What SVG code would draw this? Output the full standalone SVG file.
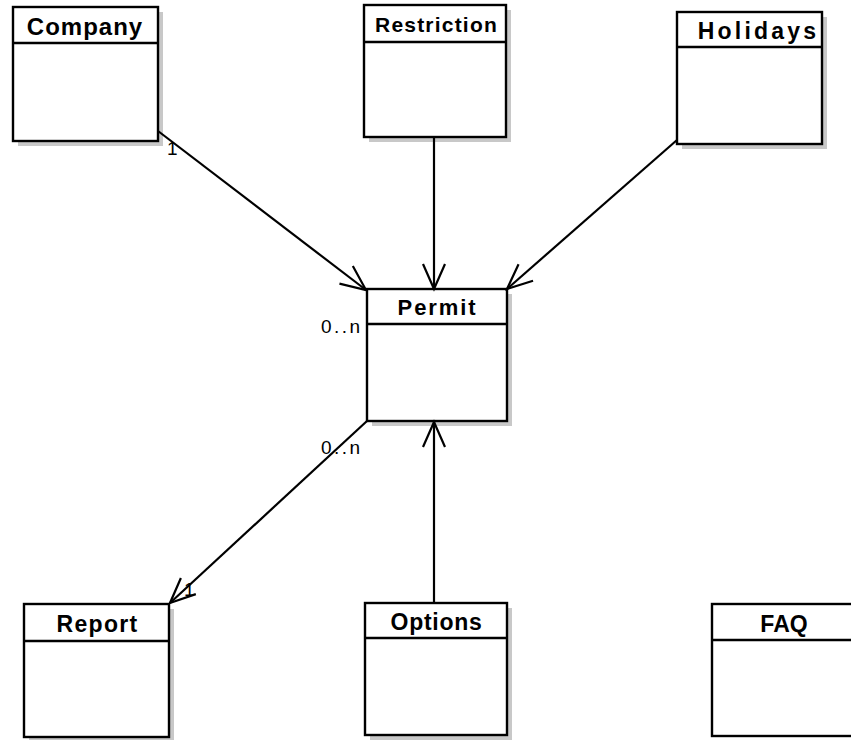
<svg xmlns="http://www.w3.org/2000/svg" width="851" height="740" viewBox="0 0 851 740">
  <style>
    .shadow { fill: #c8c8c8; }
    .box { fill: #ffffff; stroke: #000000; stroke-width: 2.4; }
    .div { stroke: #000000; stroke-width: 2.4; }
    .title { font-family: "Liberation Sans", Arial, sans-serif; font-weight: bold; fill: #000000; text-anchor: middle; }
    .mult { font-family: "Liberation Sans", Arial, sans-serif; font-size: 19px; fill: #000000; }
    .edge { fill: none; stroke: #000000; stroke-width: 2.2; }
  </style>
  <defs>
    <marker id="open" viewBox="-28 -13 31 26" refX="0" refY="0" markerWidth="31" markerHeight="26" markerUnits="userSpaceOnUse" orient="auto">
      <path d="M-25,-11 L0,0 L-25,11" fill="none" stroke="#000000" stroke-width="2.2"/>
    </marker>
  </defs>
  <rect width="851" height="740" fill="#ffffff"/>

  <g id="company">
    <rect class="shadow" x="18" y="12" width="145" height="134"/>
    <rect class="box" x="13" y="7" width="145" height="134"/>
    <line class="div" x1="13" y1="43" x2="158" y2="43"/>
    <text class="title" x="85" y="35" font-size="24" letter-spacing="1">Company</text>
  </g>

  <g id="restriction">
    <rect class="shadow" x="369" y="10" width="142" height="132"/>
    <rect class="box" x="364" y="5" width="142" height="132"/>
    <line class="div" x1="364" y1="42" x2="506" y2="42"/>
    <text class="title" x="436.5" y="32" font-size="21" letter-spacing="1.2">Restriction</text>
  </g>

  <g id="holidays">
    <rect class="shadow" x="682" y="17" width="145" height="132"/>
    <rect class="box" x="677" y="12" width="145" height="132"/>
    <line class="div" x1="677" y1="47" x2="822" y2="47"/>
    <text class="title" x="758.5" y="39" font-size="23" letter-spacing="3.2">Holidays</text>
  </g>

  <g id="permit">
    <rect class="shadow" x="372" y="294" width="140" height="132"/>
    <rect class="box" x="367" y="289" width="140" height="132"/>
    <line class="div" x1="367" y1="324" x2="507" y2="324"/>
    <text class="title" x="437.5" y="315" font-size="22" letter-spacing="1.9">Permit</text>
  </g>

  <g id="report">
    <rect class="shadow" x="29" y="609" width="145" height="133"/>
    <rect class="box" x="24" y="604" width="145" height="133"/>
    <line class="div" x1="24" y1="641" x2="169" y2="641"/>
    <text class="title" x="97.5" y="631.5" font-size="23" letter-spacing="1.3">Report</text>
  </g>

  <g id="options">
    <rect class="shadow" x="370" y="608" width="142" height="132"/>
    <rect class="box" x="365" y="603" width="142" height="132"/>
    <line class="div" x1="365" y1="638" x2="507" y2="638"/>
    <text class="title" x="436.5" y="630" font-size="23" letter-spacing="0.7">Options</text>
  </g>

  <g id="faq">
    <rect class="box" x="712" y="604" width="142" height="132"/>
    <line class="div" x1="712" y1="640" x2="854" y2="640"/>
    <text class="title" x="784" y="631.5" font-size="23">FAQ</text>
  </g>

  <!-- associations -->
  <g id="connectors">
    <path class="edge" d="M158,131 L366,290" marker-end="url(#open)"/>
    <path class="edge" d="M434,137 L434,289" marker-end="url(#open)"/>
    <path class="edge" d="M677,140 L507,289" marker-end="url(#open)"/>
    <path class="edge" d="M367,421 L170,603" marker-end="url(#open)"/>
    <path class="edge" d="M434,603 L434,422" marker-end="url(#open)"/>
    <text class="mult" x="167" y="155" font-size="18">1</text>
    <text class="mult" x="321" y="333" letter-spacing="2.5">0..n</text>
    <text class="mult" x="321" y="454" letter-spacing="2.5">0..n</text>
    <text class="mult" x="184" y="596" font-size="18">1</text>
  </g>
</svg>
